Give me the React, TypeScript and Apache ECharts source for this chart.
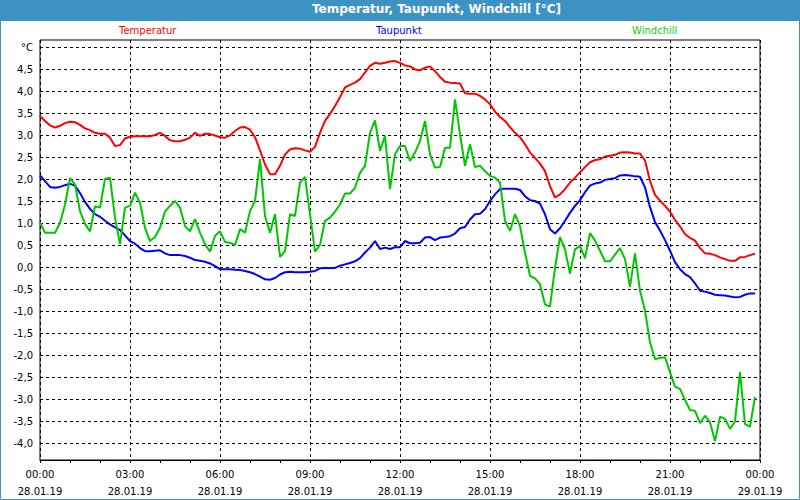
import React, { useEffect, useRef } from "react";
import * as echarts from "echarts";

// 10-minute samples from 00:00 to 23:50, 28.01.19
const temperatur = [
  3.43, 3.32, 3.22, 3.17, 3.21, 3.27, 3.30, 3.29, 3.23, 3.15, 3.11, 3.05,
  3.03, 3.03, 2.94, 2.75, 2.77, 2.92, 2.96, 2.97, 2.97, 2.97, 2.97, 3.00,
  3.05, 2.98, 2.88, 2.86, 2.86, 2.89, 2.94, 3.05, 2.98, 3.03, 3.02, 2.99,
  2.95, 2.94, 2.99, 3.09, 3.17, 3.18, 3.12, 2.95, 2.65, 2.33, 2.11, 2.11,
  2.30, 2.56, 2.67, 2.70, 2.69, 2.65, 2.62, 2.73, 3.05, 3.32, 3.48, 3.66,
  3.86, 4.08, 4.14, 4.19, 4.27, 4.42, 4.57, 4.64, 4.62, 4.64, 4.67, 4.68,
  4.64, 4.58, 4.56, 4.49, 4.47, 4.53, 4.56, 4.45, 4.32, 4.21, 4.19, 4.18,
  4.17, 3.95, 3.94, 3.94, 3.89, 3.81, 3.70, 3.53, 3.41, 3.32, 3.18, 3.05,
  2.95, 2.79, 2.60, 2.48, 2.35, 2.18, 1.84, 1.58, 1.65, 1.77, 1.92, 2.03,
  2.15, 2.27, 2.38, 2.43, 2.45, 2.51, 2.53, 2.55, 2.60, 2.61, 2.60, 2.58,
  2.58, 2.42, 1.96, 1.64, 1.51, 1.39, 1.26, 1.07, 0.92, 0.75, 0.66, 0.60,
  0.43, 0.31, 0.30, 0.27, 0.22, 0.18, 0.14, 0.14, 0.22, 0.23, 0.27, 0.30,
];

const taupunkt = [
  2.08, 1.95, 1.82, 1.80, 1.82, 1.86, 1.89, 1.85, 1.68, 1.48, 1.32, 1.20,
  1.14, 1.05, 0.97, 0.90, 0.84, 0.72, 0.59, 0.53, 0.43, 0.36, 0.36, 0.37,
  0.38, 0.31, 0.27, 0.27, 0.27, 0.25, 0.21, 0.16, 0.14, 0.12, 0.08, 0.02,
  -0.05, -0.05, -0.05, -0.06, -0.07, -0.09, -0.12, -0.16, -0.22, -0.28, -0.29, -0.25,
  -0.17, -0.12, -0.11, -0.12, -0.12, -0.12, -0.11, -0.09, -0.03, -0.02, -0.02, -0.02,
  0.03, 0.06, 0.09, 0.13, 0.20, 0.33, 0.44, 0.59, 0.41, 0.44, 0.41, 0.45,
  0.45, 0.59, 0.54, 0.54, 0.55, 0.67, 0.68, 0.61, 0.67, 0.68, 0.70, 0.76,
  0.88, 0.91, 1.08, 1.20, 1.21, 1.31, 1.50, 1.65, 1.77, 1.78, 1.78, 1.78,
  1.75, 1.61, 1.52, 1.50, 1.44, 1.20, 0.86, 0.76, 0.88, 1.05, 1.23, 1.39,
  1.52, 1.70, 1.85, 1.90, 1.92, 1.98, 2.00, 2.02, 2.08, 2.09, 2.08, 2.06,
  2.05, 1.81, 1.36, 1.02, 0.83, 0.61, 0.37, 0.11, -0.05, -0.16, -0.23, -0.37,
  -0.54, -0.56, -0.59, -0.63, -0.64, -0.65, -0.67, -0.69, -0.68, -0.63, -0.60, -0.60,
];

const windchill = [
  1.02, 0.78, 0.78, 0.78, 1.00, 1.42, 2.02, 1.88, 1.27, 0.98, 0.81, 1.38,
  1.35, 2.00, 2.03, 1.12, 0.52, 1.35, 1.39, 1.69, 1.46, 0.89, 0.59, 0.68,
  0.89, 1.26, 1.39, 1.50, 1.35, 0.93, 0.81, 1.09, 0.78, 0.52, 0.35, 0.71,
  0.81, 0.57, 0.55, 0.50, 0.86, 0.78, 1.27, 1.50, 2.45, 1.16, 0.78, 1.20,
  0.23, 0.36, 1.20, 1.16, 1.92, 2.05, 1.20, 0.35, 0.50, 1.05, 1.12, 1.26,
  1.42, 1.67, 1.67, 1.80, 2.14, 2.30, 3.05, 3.33, 2.64, 2.98, 1.77, 2.56,
  2.75, 2.75, 2.41, 2.60, 2.86, 3.32, 2.56, 2.26, 2.27, 2.71, 2.71, 3.81,
  3.02, 2.30, 2.79, 2.27, 2.30, 2.18, 2.07, 2.03, 1.92, 1.05, 0.82, 1.20,
  0.93, 0.33, -0.20, -0.26, -0.39, -0.85, -0.90, -0.02, 0.68, 0.40, -0.15, 0.40,
  0.48, 0.20, 0.77, 0.60, 0.37, 0.13, 0.13, 0.28, 0.43, 0.18, -0.45, 0.31,
  -0.54, -0.99, -1.71, -2.09, -2.07, -2.05, -2.39, -2.72, -2.77, -3.02, -3.25, -3.27,
  -3.55, -3.38, -3.53, -3.96, -3.40, -3.45, -3.68, -3.51, -2.39, -3.57, -3.63, -2.95,
];

const seriesNames = ["Temperatur", "Taupunkt", "Windchill"];
const seriesColors = ["#ff0000", "#0000ff", "#00c800"];
const legendColors = ["#ff0000", "#0000ff", "#10d010"];
const hourTicks = ["00:00", "03:00", "06:00", "09:00", "12:00", "15:00", "18:00", "21:00", "00:00"];
const dateTicks = ["28.01.19", "28.01.19", "28.01.19", "28.01.19", "28.01.19", "28.01.19", "28.01.19", "28.01.19", "29.01.19"];
const titleText = "Temperatur, Taupunkt, Windchill [°C]";
const unitLabel = "°C";

const FONT = '"DejaVu Sans", Tahoma, sans-serif';

export default function App() {
  const ref = useRef<HTMLDivElement>(null);

  useEffect(() => {
    if (!ref.current) return;
    const chart = echarts.init(ref.current, undefined, { renderer: "svg" });
    const toPairs = (arr: number[]) => arr.map((v, i) => [i / 6, v]);
    const allData = [temperatur, taupunkt, windchill];
    const legendLefts = [114, 371, 627];

    const dashed = { color: "#000", width: 1, type: [3, 3] as any };

    chart.setOption({
      animation: false,
      backgroundColor: "#ffffff",
      title: {
        text: titleText,
        left: 312,
        top: 3,
        padding: 0,
        textStyle: { color: "#ffffff", fontSize: 12, fontWeight: "bold", fontFamily: FONT },
      },
      legend: seriesNames.map((name, i) => ({
        data: [name],
        left: legendLefts[i],
        top: 25,
        padding: 0,
        icon: "none",
        itemWidth: 0,
        itemHeight: 0,
        selectedMode: false,
        textStyle: { color: legendColors[i], fontSize: 10, fontFamily: FONT },
      })),
      graphic: [
        {
          type: "rect",
          z: -10,
          shape: { x: 0, y: 0, width: 800, height: 21 },
          style: { fill: "#3d92c4" },
        },
        {
          type: "rect",
          z: 100,
          shape: { x: 0.5, y: 0.5, width: 799, height: 499 },
          style: { fill: "none", stroke: "#3d92c4", lineWidth: 1 },
        },
      ],
      grid: [
        {
          left: 40,
          top: 40,
          width: 720,
          height: 420,
          show: true,
          borderColor: "#000",
          borderWidth: 1,
          backgroundColor: "#ffffff",
        },
        { left: 40, top: 47, width: 720, height: 396, show: false },
      ],
      xAxis: [
        {
          gridIndex: 0,
          type: "value",
          min: 0,
          max: 24,
          interval: 3,
          axisLine: { show: true, lineStyle: { color: "#000" } },
          axisTick: { show: true, length: 3, lineStyle: { color: "#000" } },
          minorTick: { show: true, splitNumber: 3, length: 3, lineStyle: { color: "#000" } },
          splitLine: { show: true, lineStyle: dashed },
          axisLabel: {
            margin: 6,
            color: "#000",
            fontSize: 10,
            lineHeight: 17,
            fontFamily: FONT,
            formatter: (v: number) => {
              const k = Math.round(v / 3);
              return `${hourTicks[k]}\n${dateTicks[k]}`;
            },
          },
        },
        { gridIndex: 1, type: "value", min: 0, max: 24, show: false },
      ],
      yAxis: [
        { gridIndex: 0, type: "value", min: 0, max: 1, show: false },
        {
          gridIndex: 1,
          type: "value",
          min: -4,
          max: 5,
          interval: 0.5,
          axisLine: { show: false },
          axisTick: { show: false },
          splitLine: { show: true, lineStyle: dashed },
          axisLabel: {
            margin: 7,
            color: "#000",
            fontSize: 10,
            fontFamily: FONT,
            formatter: (v: number) => (v === 5 ? unitLabel : v.toFixed(1).replace(".", ",")),
          },
        },
      ],
      series: seriesNames.map((name, i) => ({
        name,
        type: "line",
        xAxisIndex: 1,
        yAxisIndex: 1,
        showSymbol: false,
        symbol: "none",
        color: seriesColors[i],
        lineStyle: { width: 2, color: seriesColors[i] },
        data: toPairs(allData[i]),
      })),
    });

    return () => chart.dispose();
  }, []);

  return (
    <div
      ref={ref}
      style={{ position: "absolute", left: 0, top: 0, width: 800, height: 500 }}
    />
  );
}
